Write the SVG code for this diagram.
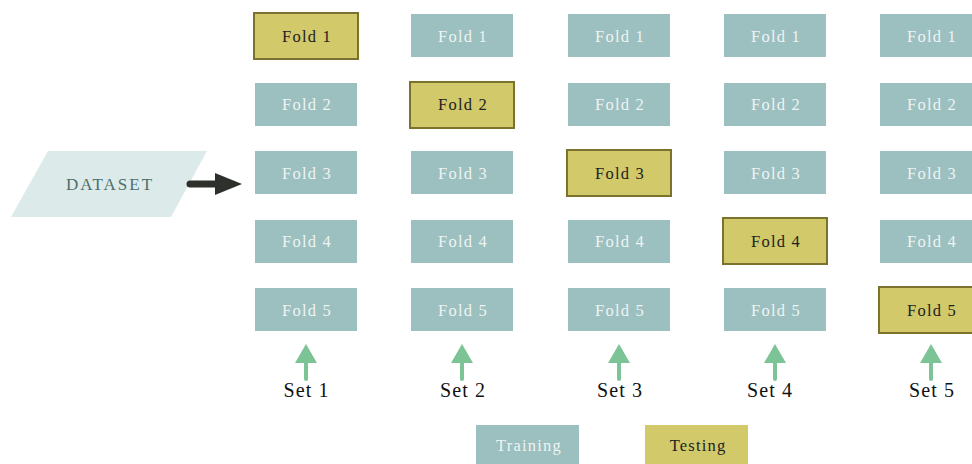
<svg xmlns="http://www.w3.org/2000/svg" width="972" height="464" viewBox="0 0 972 464">
<style>
.tr{fill:#9cbfbf}
.te{fill:#d1c96a;stroke:#7b722d;stroke-width:2}
.tt{font-family:"Liberation Serif",serif;font-size:16.5px;letter-spacing:1.2px;text-anchor:middle;fill:#eef4f3}
.dt{font-family:"Liberation Serif",serif;font-size:16.5px;letter-spacing:1.2px;text-anchor:middle;fill:#222}
.set{font-family:"Liberation Serif",serif;font-size:20px;letter-spacing:1.1px;text-anchor:middle;fill:#111}
.ga{fill:#7cc495}
.gl{stroke:#7cc495;stroke-width:4;stroke-linecap:round}
</style>
<rect width="972" height="464" fill="#fff"/>
<g id="dataset">
<polygon points="48,151 207,151 171,217 11,217" fill="#dcebea"/>
<text x="110" y="190" font-family="Liberation Serif,serif" font-size="17" fill="#4e6f6c" text-anchor="middle" letter-spacing="2">DATASET</text>
</g>
<g id="connectors">
<line x1="190" y1="184" x2="220" y2="184" stroke="#2e302b" stroke-width="7" stroke-linecap="round"/>
<polygon points="215,173 242,184 215,195" fill="#2e302b"/>
<g id="up1"><line class="gl" x1="306" y1="360" x2="306" y2="379"/><polygon class="ga" points="295,363 306,344 317,363"/></g>
<g id="up2"><line class="gl" x1="462" y1="360" x2="462" y2="379"/><polygon class="ga" points="451,363 462,344 473,363"/></g>
<g id="up3"><line class="gl" x1="619" y1="360" x2="619" y2="379"/><polygon class="ga" points="608,363 619,344 630,363"/></g>
<g id="up4"><line class="gl" x1="775" y1="360" x2="775" y2="379"/><polygon class="ga" points="764,363 775,344 786,363"/></g>
<g id="up5"><line class="gl" x1="931" y1="360" x2="931" y2="379"/><polygon class="ga" points="920,363 931,344 942,363"/></g>
</g>
<g id="set1">
<rect class="te" x="254" y="13" width="104" height="46"/><text class="dt" x="307" y="42">Fold 1</text>
<rect class="tr" x="255" y="83" width="102" height="43"/><text class="tt" x="307" y="110">Fold 2</text>
<rect class="tr" x="255" y="151" width="102" height="43"/><text class="tt" x="307" y="179">Fold 3</text>
<rect class="tr" x="255" y="220" width="102" height="43"/><text class="tt" x="307" y="247">Fold 4</text>
<rect class="tr" x="255" y="288" width="102" height="43"/><text class="tt" x="307" y="316">Fold 5</text>
<text class="set" x="306.5" y="397">Set 1</text>
</g>
<g id="set2">
<rect class="tr" x="411" y="14" width="102" height="43"/><text class="tt" x="463" y="42">Fold 1</text>
<rect class="te" x="410" y="82" width="104" height="46"/><text class="dt" x="463" y="110">Fold 2</text>
<rect class="tr" x="411" y="151" width="102" height="43"/><text class="tt" x="463" y="179">Fold 3</text>
<rect class="tr" x="411" y="220" width="102" height="43"/><text class="tt" x="463" y="247">Fold 4</text>
<rect class="tr" x="411" y="288" width="102" height="43"/><text class="tt" x="463" y="316">Fold 5</text>
<text class="set" x="463" y="397">Set 2</text>
</g>
<g id="set3">
<rect class="tr" x="568" y="14" width="102" height="43"/><text class="tt" x="620" y="42">Fold 1</text>
<rect class="tr" x="568" y="83" width="102" height="43"/><text class="tt" x="620" y="110">Fold 2</text>
<rect class="te" x="567" y="150" width="104" height="46"/><text class="dt" x="620" y="179">Fold 3</text>
<rect class="tr" x="568" y="220" width="102" height="43"/><text class="tt" x="620" y="247">Fold 4</text>
<rect class="tr" x="568" y="288" width="102" height="43"/><text class="tt" x="620" y="316">Fold 5</text>
<text class="set" x="620" y="397">Set 3</text>
</g>
<g id="set4">
<rect class="tr" x="724" y="14" width="102" height="43"/><text class="tt" x="776" y="42">Fold 1</text>
<rect class="tr" x="724" y="83" width="102" height="43"/><text class="tt" x="776" y="110">Fold 2</text>
<rect class="tr" x="724" y="151" width="102" height="43"/><text class="tt" x="776" y="179">Fold 3</text>
<rect class="te" x="723" y="218" width="104" height="46"/><text class="dt" x="776" y="247">Fold 4</text>
<rect class="tr" x="724" y="288" width="102" height="43"/><text class="tt" x="776" y="316">Fold 5</text>
<text class="set" x="770" y="397">Set 4</text>
</g>
<g id="set5">
<rect class="tr" x="880" y="14" width="102" height="43"/><text class="tt" x="932" y="42">Fold 1</text>
<rect class="tr" x="880" y="83" width="102" height="43"/><text class="tt" x="932" y="110">Fold 2</text>
<rect class="tr" x="880" y="151" width="102" height="43"/><text class="tt" x="932" y="179">Fold 3</text>
<rect class="tr" x="880" y="220" width="102" height="43"/><text class="tt" x="932" y="247">Fold 4</text>
<rect class="te" x="879" y="287" width="104" height="46"/><text class="dt" x="932" y="316">Fold 5</text>
<text class="set" x="932" y="397">Set 5</text>
</g>
<g id="legend-training">
<rect class="tr" x="476" y="425" width="103" height="39"/><text class="tt" x="529" y="451" letter-spacing="1.5">Training</text>
</g>
<g id="legend-testing">
<rect x="645" y="425" width="103" height="39" fill="#d1c96a"/><text class="dt" x="698" y="451" letter-spacing="1">Testing</text>
</g>
</svg>
